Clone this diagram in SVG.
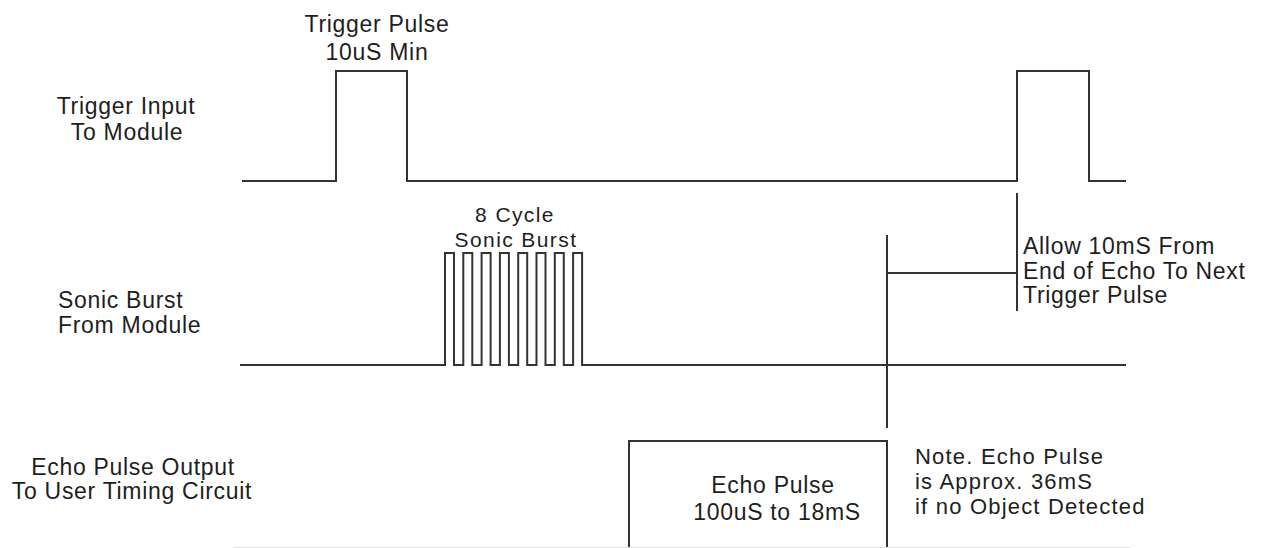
<svg xmlns="http://www.w3.org/2000/svg" width="1261" height="548" viewBox="0 0 1261 548">
<style>
.w{fill:none;stroke:#333;stroke-width:2;stroke-linejoin:miter}
.t{font-family:"Liberation Sans",Arial,sans-serif;font-size:23px;fill:#1e1e1e;letter-spacing:0.7px}
.m{text-anchor:middle}
.s{font-size:21px;letter-spacing:1.4px}
.n{font-size:22px;letter-spacing:1.2px}
</style>
<rect width="1261" height="548" fill="#fff"/>
<g id="trigger-label"><text class="t m" x="126" y="114">Trigger Input</text><text class="t m" x="127" y="140">To Module</text></g>
<g id="sonic-label"><text class="t" x="58" y="308">Sonic Burst</text><text class="t" x="58" y="333">From Module</text></g>
<g id="echo-label"><text class="t m" x="133" y="475">Echo Pulse Output</text><text class="t m" x="132" y="499">To User Timing Circuit</text></g>
<g id="trigger-wave"><path class="w" d="M242,181 H336 V71 H407 V181 H1017 V71 H1089 V181 H1126"/>
<text class="t m" x="377" y="32">Trigger Pulse</text><text class="t m" x="377" y="60">10uS Min</text></g>
<g id="sonic-wave"><path class="w" d="M240,365 H445 V253 H454 V365 H463.3 V253 H472.3 V365 H481.6 V253 H490.6 V365 H499.9 V253 H508.9 V365 H518.2 V253 H527.2 V365 H536.5 V253 H545.5 V365 H554.8 V253 H563.8 V365 H573.1 V253 H582.1 V365 H1126"/>
<text class="t s m" x="515" y="222">8 Cycle</text><text class="t s m" x="516" y="247">Sonic Burst</text></g>
<g id="echo-wave"><path class="w" d="M629,549 V441 H887 V549"/>
<line x1="233" y1="547.5" x2="1130" y2="547.5" stroke="#e2e2e2" stroke-width="1"/>
<text class="t m" x="773" y="493">Echo Pulse</text><text class="t m" x="777" y="520">100uS to 18mS</text></g>
<g id="connectors">
<path class="w" d="M887,235 V428 M887,273 H1017 M1017,193 V311"/>
</g>
<g id="interval-note"><text class="t" x="1023" y="254">Allow 10mS From</text><text class="t" x="1023" y="279">End of Echo To Next</text><text class="t" x="1023" y="303">Trigger Pulse</text></g>
<g id="echo-note"><text class="t n" x="915" y="464">Note. Echo Pulse</text><text class="t n" x="915" y="489">is Approx. 36mS</text><text class="t n" x="915" y="514">if no Object Detected</text></g>
</svg>
